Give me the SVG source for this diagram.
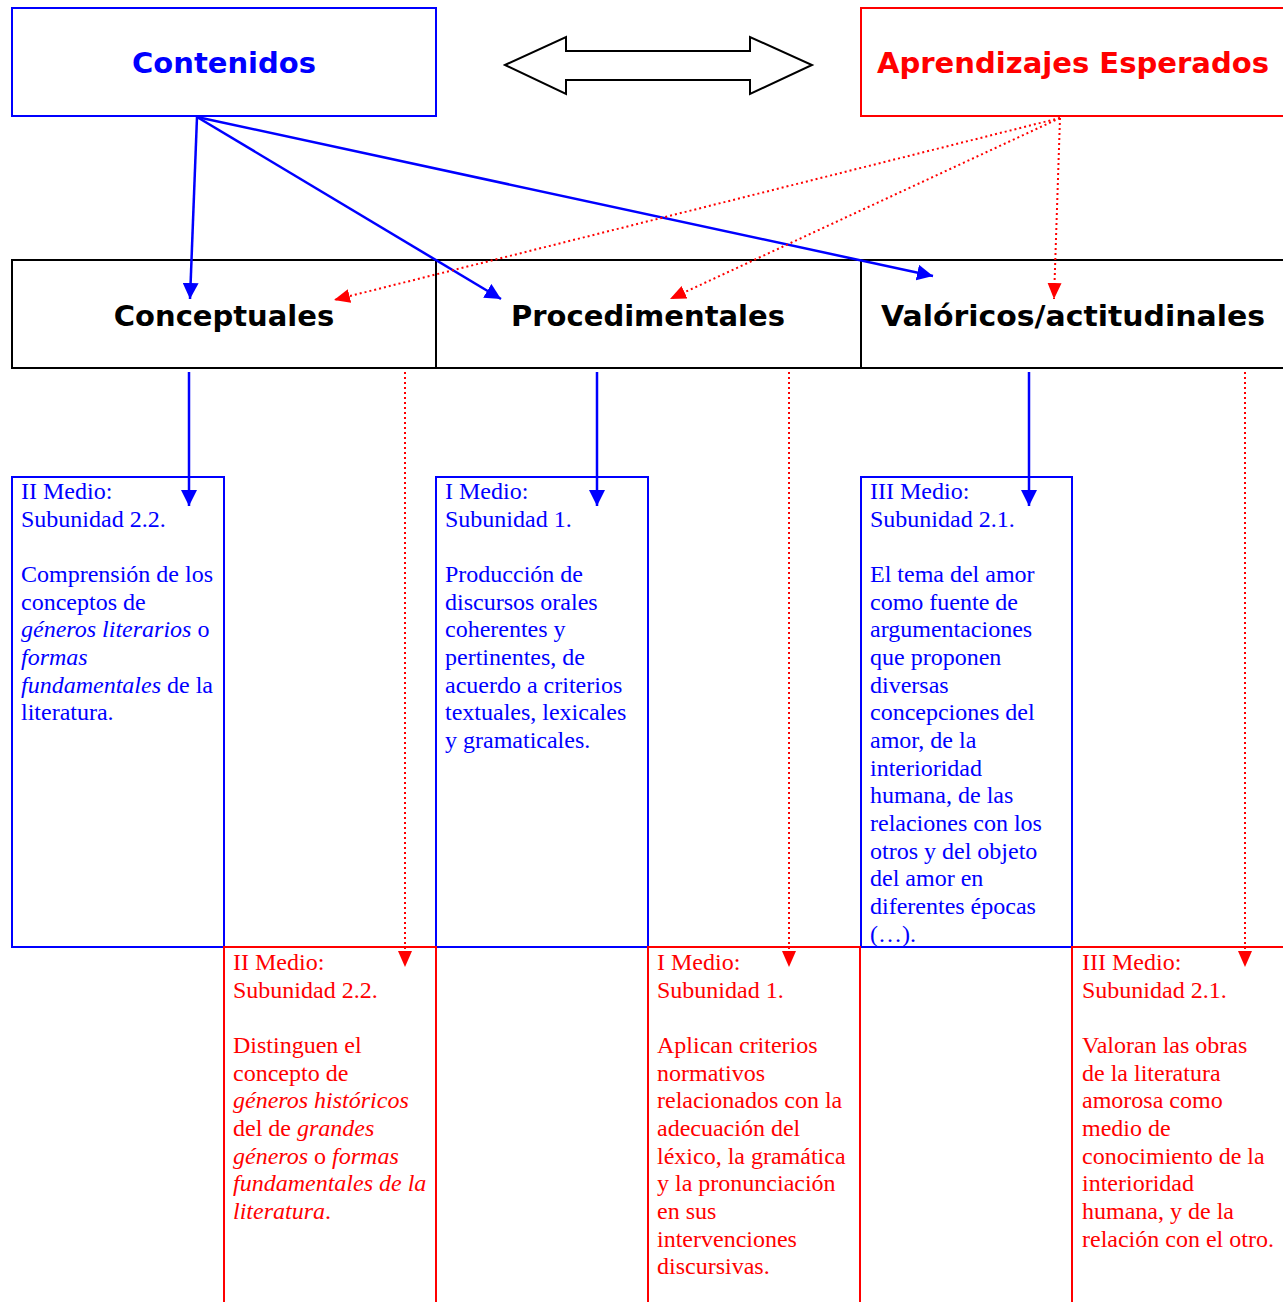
<svg xmlns="http://www.w3.org/2000/svg" width="1283" height="1302" viewBox="0 0 1283 1302">
<style>
.head{font-family:"DejaVu Sans",Verdana,sans-serif;font-weight:bold;font-size:29px;text-anchor:middle}
.body{font-family:"Liberation Serif","Times New Roman",serif;font-size:24px}
.b{fill:#0000FF}
.r{fill:#FF0000}
.k{fill:#000}
.boxb{fill:none;stroke:#0000FF;stroke-width:2}
.boxr{fill:none;stroke:#FF0000;stroke-width:2}
.boxk{fill:none;stroke:#000;stroke-width:2}
.cb{stroke:#0000FF;stroke-width:2.5;fill:none}
.cr{stroke:#FF0000;stroke-width:2;stroke-dasharray:2 3;fill:none}
</style>
<defs>
<marker id="ab" markerUnits="userSpaceOnUse" markerWidth="16" markerHeight="16" viewBox="0 0 16 16" refX="16" refY="8" orient="auto"><path d="M0,0 L16,8 L0,16 Z" fill="#0000FF"/></marker>
<marker id="ar" markerUnits="userSpaceOnUse" markerWidth="16" markerHeight="16" viewBox="0 0 16 16" refX="16" refY="8" orient="auto"><path d="M0,1 L16,8 L0,15 Z" fill="#FF0000"/></marker>
</defs>
<rect width="1283" height="1302" fill="#fff"/>

<g id="contenidos">
<rect class="boxb" x="12" y="8" width="424" height="108"/>
<text class="head b" x="224" y="73">Contenidos</text>
</g>

<g id="aprendizajes">
<rect class="boxr" x="861" y="8" width="440" height="108"/>
<text class="head r" x="1073" y="73" textLength="392" lengthAdjust="spacingAndGlyphs">Aprendizajes Esperados</text>
</g>

<g id="double-arrow">
<path d="M505,65 L566,37 L566,51 L750,51 L750,37 L812,65 L750,94 L750,80 L566,80 L566,94 Z" fill="#fff" stroke="#000" stroke-width="2" stroke-linejoin="miter"/>
</g>

<g id="conceptuales">
<rect class="boxk" x="12" y="260" width="424" height="108"/>
<text class="head k" x="224" y="326">Conceptuales</text>
</g>
<g id="procedimentales">
<rect class="boxk" x="436" y="260" width="425" height="108"/>
<text class="head k" x="648" y="326">Procedimentales</text>
</g>
<g id="valoricos">
<rect class="boxk" x="861" y="260" width="440" height="108"/>
<text class="head k" x="1073" y="326" textLength="384" lengthAdjust="spacingAndGlyphs">Valóricos/actitudinales</text>
</g>

<g id="contenido-conceptual">
<rect class="boxb" x="12" y="477" width="212" height="470"/>
<text class="body b">
<tspan x="21" y="499">II Medio:</tspan>
<tspan x="21" y="527">Subunidad 2.2.</tspan>
<tspan x="21" y="582">Comprensión de los</tspan>
<tspan x="21" y="610">conceptos de</tspan>
<tspan x="21" y="637"><tspan font-style="italic">géneros literarios</tspan> o</tspan>
<tspan x="21" y="665" font-style="italic">formas</tspan>
<tspan x="21" y="693"><tspan font-style="italic">fundamentales</tspan> de la</tspan>
<tspan x="21" y="720">literatura.</tspan>
</text>
</g>

<g id="contenido-procedimental">
<rect class="boxb" x="436" y="477" width="212" height="470"/>
<text class="body b">
<tspan x="445" y="499">I Medio:</tspan>
<tspan x="445" y="527">Subunidad 1.</tspan>
<tspan x="445" y="582">Producción de</tspan>
<tspan x="445" y="610">discursos orales</tspan>
<tspan x="445" y="637">coherentes y</tspan>
<tspan x="445" y="665">pertinentes, de</tspan>
<tspan x="445" y="693">acuerdo a criterios</tspan>
<tspan x="445" y="720">textuales, lexicales</tspan>
<tspan x="445" y="748">y gramaticales.</tspan>
</text>
</g>

<g id="contenido-valorico">
<rect class="boxb" x="861" y="477" width="211" height="470"/>
<text class="body b">
<tspan x="870" y="499">III Medio:</tspan>
<tspan x="870" y="527">Subunidad 2.1.</tspan>
<tspan x="870" y="582">El tema del amor</tspan>
<tspan x="870" y="610">como fuente de</tspan>
<tspan x="870" y="637">argumentaciones</tspan>
<tspan x="870" y="665">que proponen</tspan>
<tspan x="870" y="693">diversas</tspan>
<tspan x="870" y="720">concepciones del</tspan>
<tspan x="870" y="748">amor, de la</tspan>
<tspan x="870" y="776">interioridad</tspan>
<tspan x="870" y="803">humana, de las</tspan>
<tspan x="870" y="831">relaciones con los</tspan>
<tspan x="870" y="859">otros y del objeto</tspan>
<tspan x="870" y="886">del amor en</tspan>
<tspan x="870" y="914">diferentes épocas</tspan>
<tspan x="870" y="942">(…).</tspan>
</text>
</g>

<g id="aprendizaje-conceptual">
<rect class="boxr" x="224" y="947" width="212" height="370"/>
<text class="body r">
<tspan x="233" y="970">II Medio:</tspan>
<tspan x="233" y="998">Subunidad 2.2.</tspan>
<tspan x="233" y="1053">Distinguen el</tspan>
<tspan x="233" y="1081">concepto de</tspan>
<tspan x="233" y="1108" font-style="italic">géneros históricos</tspan>
<tspan x="233" y="1136">del de <tspan font-style="italic">grandes</tspan></tspan>
<tspan x="233" y="1164"><tspan font-style="italic">géneros</tspan> o <tspan font-style="italic">formas</tspan></tspan>
<tspan x="233" y="1191" font-style="italic">fundamentales de la</tspan>
<tspan x="233" y="1219"><tspan font-style="italic">literatura</tspan>.</tspan>
</text>
</g>

<g id="aprendizaje-procedimental">
<rect class="boxr" x="648" y="947" width="212" height="370"/>
<text class="body r">
<tspan x="657" y="970">I Medio:</tspan>
<tspan x="657" y="998">Subunidad 1.</tspan>
<tspan x="657" y="1053">Aplican criterios</tspan>
<tspan x="657" y="1081">normativos</tspan>
<tspan x="657" y="1108">relacionados con la</tspan>
<tspan x="657" y="1136">adecuación del</tspan>
<tspan x="657" y="1164">léxico, la gramática</tspan>
<tspan x="657" y="1191">y la pronunciación</tspan>
<tspan x="657" y="1219">en sus</tspan>
<tspan x="657" y="1247">intervenciones</tspan>
<tspan x="657" y="1274">discursivas.</tspan>
</text>
</g>

<g id="aprendizaje-valorico">
<rect class="boxr" x="1072" y="947" width="230" height="370"/>
<text class="body r">
<tspan x="1082" y="970">III Medio:</tspan>
<tspan x="1082" y="998">Subunidad 2.1.</tspan>
<tspan x="1082" y="1053">Valoran las obras</tspan>
<tspan x="1082" y="1081">de la literatura</tspan>
<tspan x="1082" y="1108">amorosa como</tspan>
<tspan x="1082" y="1136">medio de</tspan>
<tspan x="1082" y="1164">conocimiento de la</tspan>
<tspan x="1082" y="1191">interioridad</tspan>
<tspan x="1082" y="1219">humana, y de la</tspan>
<tspan x="1082" y="1247">relación con el otro.</tspan>
</text>
</g>

<g id="connectors">
<line class="cb" x1="197" y1="117" x2="190" y2="299" marker-end="url(#ab)"/>
<line class="cb" x1="197" y1="117" x2="501" y2="299" marker-end="url(#ab)"/>
<line class="cb" x1="197" y1="117" x2="933" y2="276" marker-end="url(#ab)"/>
<line class="cr" x1="1060" y1="118" x2="334" y2="300" marker-end="url(#ar)"/>
<line class="cr" x1="1060" y1="118" x2="670" y2="299" marker-end="url(#ar)"/>
<line class="cr" x1="1060" y1="118" x2="1054" y2="299" marker-end="url(#ar)"/>
<line class="cb" x1="189" y1="372" x2="189" y2="506" marker-end="url(#ab)"/>
<line class="cb" x1="597" y1="372" x2="597" y2="506" marker-end="url(#ab)"/>
<line class="cb" x1="1029" y1="372" x2="1029" y2="506" marker-end="url(#ab)"/>
<line class="cr" x1="405" y1="372" x2="405" y2="967" marker-end="url(#ar)"/>
<line class="cr" x1="789" y1="372" x2="789" y2="967" marker-end="url(#ar)"/>
<line class="cr" x1="1245" y1="372" x2="1245" y2="967" marker-end="url(#ar)"/>
</g>
</svg>
